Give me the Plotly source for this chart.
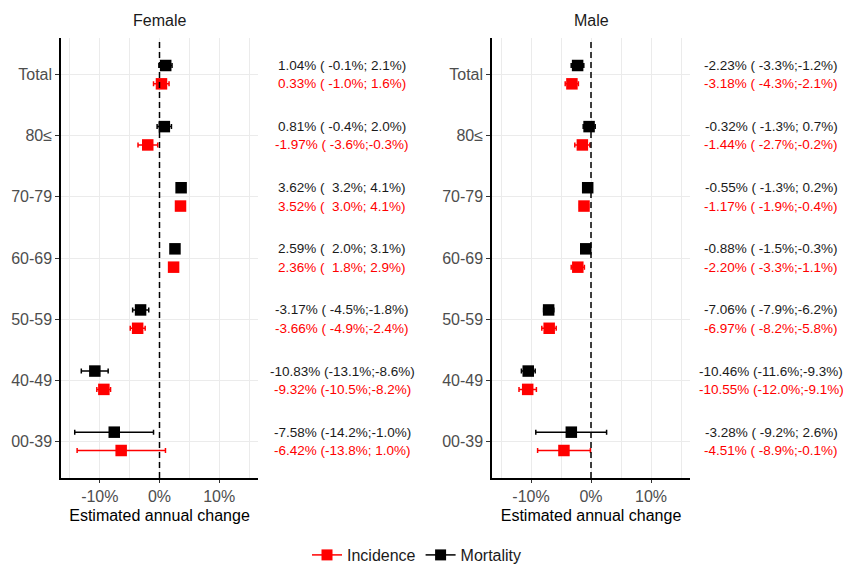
import plotly.graph_objects as go

W, H = 843, 565

categories = ["Total", "80≤", "70-79", "60-69", "50-59", "40-49", "00-39"]

# Female
f_mort_est = [1.04, 0.81, 3.62, 2.59, -3.17, -10.83, -7.58]
f_mort_lo = [-0.1, -0.4, 3.2, 2.0, -4.5, -13.1, -14.2]
f_mort_hi = [2.1, 2.0, 4.1, 3.1, -1.8, -8.6, -1.0]
f_inc_est = [0.33, -1.97, 3.52, 2.36, -3.66, -9.32, -6.42]
f_inc_lo = [-1.0, -3.6, 3.0, 1.8, -4.9, -10.5, -13.8]
f_inc_hi = [1.6, -0.3, 4.1, 2.9, -2.4, -8.2, 1.0]

# Male
m_mort_est = [-2.23, -0.32, -0.55, -0.88, -7.06, -10.46, -3.28]
m_mort_lo = [-3.3, -1.3, -1.3, -1.5, -7.9, -11.6, -9.2]
m_mort_hi = [-1.2, 0.7, 0.2, -0.3, -6.2, -9.3, 2.6]
m_inc_est = [-3.18, -1.44, -1.17, -2.20, -6.97, -10.55, -4.51]
m_inc_lo = [-4.3, -2.7, -1.9, -3.3, -8.2, -12.0, -8.9]
m_inc_hi = [-2.1, -0.2, -0.4, -1.1, -5.8, -9.1, -0.1]

x_tick_vals = [-10, 0, 10]
x_tick_text = ["-10%", "0%", "10%"]
x_minor_vals = [-15, -5, 5, 15]

RED = "#FF0000"
BLACK = "#000000"
GRID = "#EBEBEB"
FONT = "Liberation Sans, Arial, sans-serif"
DODGE = 0.15

n = len(categories)
cat_pos = [n - i for i in range(n)]


def fmt(e, lo, hi):
    s = f"{e:.2f}% ({lo:5.1f}%;{hi:4.1f}%)"
    return s.replace(" ", "\u00a0")


fig = go.Figure()

panels = [
    ("Female", "x", "y", f_mort_est, f_mort_lo, f_mort_hi, f_inc_est, f_inc_lo, f_inc_hi),
    ("Male", "x2", "y2", m_mort_est, m_mort_lo, m_mort_hi, m_inc_est, m_inc_lo, m_inc_hi),
]

# domains in pixels
dom_px = [(61, 258), (492, 690)]
text_center_px = [342, 771]
y_dom = [1 - 478 / H, 1 - 38 / H]

annotations = []
shapes = []

for k, (title, xa, ya, me, ml, mh, ie, il, ih) in enumerate(panels):
    for est, lo, hi, col, off in [(ie, il, ih, RED, -DODGE), (me, ml, mh, BLACK, DODGE)]:
        fig.add_trace(go.Scatter(
            x=est,
            y=[p + off for p in cat_pos],
            mode="markers",
            marker=dict(symbol="square", size=11.5, color=col, line=dict(width=0)),
            error_x=dict(type="data", symmetric=False,
                         array=[h - e for e, h in zip(est, hi)],
                         arrayminus=[e - l for e, l in zip(est, lo)],
                         color=col, thickness=1.5, width=2.5),
            xaxis=xa, yaxis=ya, showlegend=False, hoverinfo="skip",
        ))
        for p, e, l, h in zip(cat_pos, est, lo, hi):
            annotations.append(dict(
                x=text_center_px[k] / W, xref="paper",
                y=p + off, yref=ya,
                text=fmt(e, l, h), showarrow=False,
                xanchor="center", yanchor="middle",
                font=dict(family=FONT, size=13.5, color=col if col == RED else "#1A1A1A"),
            ))
    annotations.append(dict(
        x=(dom_px[k][0] + dom_px[k][1]) / 2 / W, xref="paper",
        y=1 - 20 / H, yref="paper", text=title, showarrow=False,
        xanchor="center", yanchor="middle",
        font=dict(family=FONT, size=16, color="#1A1A1A"),
    ))
    shapes.append(dict(type="line", xref=xa, yref=f"{ya} domain",
                       x0=0, x1=0, y0=0, y1=1,
                       line=dict(color=BLACK, width=1.5, dash="6px,4px")))

# legend traces
fig.add_trace(go.Scatter(x=[None], y=[None], mode="lines+markers", name="Incidence",
                         marker=dict(symbol="square", size=11, color=RED),
                         line=dict(color=RED, width=1.5)))
fig.add_trace(go.Scatter(x=[None], y=[None], mode="lines+markers", name="Mortality",
                         marker=dict(symbol="square", size=11, color=BLACK),
                         line=dict(color=BLACK, width=1.5)))

axis_common_x = dict(
    range=[-16.5, 16.5], tickvals=x_tick_vals, ticktext=x_tick_text,
    showgrid=True, gridcolor=GRID, gridwidth=1.2,
    minor=dict(tickvals=x_minor_vals, showgrid=True, gridcolor=GRID, gridwidth=0.8, ticks=""),
    zeroline=False, showline=True, linecolor=BLACK, linewidth=1.5,
    ticks="outside", ticklen=3, tickcolor="#333333", tickwidth=1,
    tickfont=dict(family=FONT, size=16, color="#4D4D4D"),
    title=dict(text="Estimated annual change", font=dict(family=FONT, size=16, color="#000000"), standoff=6),
    automargin=False, fixedrange=True,
)
axis_common_y = dict(
    range=[0.4, 7.6], tickvals=cat_pos, ticktext=categories,
    showgrid=True, gridcolor=GRID, gridwidth=1.2,
    zeroline=False, showline=True, linecolor=BLACK, linewidth=1.5,
    ticks="outside", ticklen=4, tickcolor="#333333", tickwidth=1,
    tickfont=dict(family=FONT, size=16, color="#4D4D4D"),
    automargin=False, fixedrange=True,
)

fig.update_layout(
    width=W, height=H,
    margin=dict(l=0, r=0, t=0, b=0, autoexpand=False),
    paper_bgcolor="white", plot_bgcolor="white",
    font=dict(family=FONT),
    xaxis=dict(domain=[dom_px[0][0] / W, dom_px[0][1] / W], anchor="y", **axis_common_x),
    yaxis=dict(domain=y_dom, anchor="x", **axis_common_y),
    xaxis2=dict(domain=[dom_px[1][0] / W, dom_px[1][1] / W], anchor="y2", **axis_common_x),
    yaxis2=dict(domain=y_dom, anchor="x2", **axis_common_y),
    annotations=annotations,
    shapes=shapes,
    showlegend=True,
    legend=dict(orientation="h", x=417 / W, xanchor="center", y=1 - 555 / H, yanchor="middle",
                font=dict(family=FONT, size=16, color="#1A1A1A"), itemwidth=30,
                bgcolor="rgba(0,0,0,0)"),
)

fig.write_html("out.html", config={"displayModeBar": False},
               post_script="document.body.style.margin='0';document.body.style.overflow='hidden';")
